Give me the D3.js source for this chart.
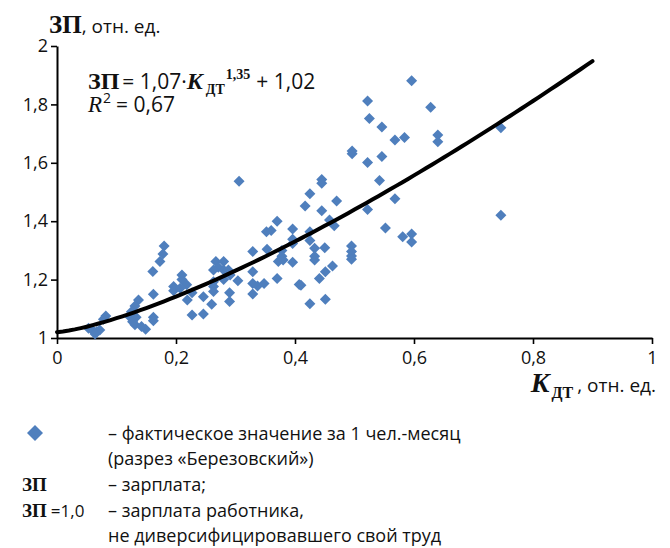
<!DOCTYPE html>
<html>
<head>
<meta charset="utf-8">
<script src="https://cdn.jsdelivr.net/npm/d3@7/dist/d3.min.js"></script>
<style>
  body { margin: 0; background: #fff; }
  svg { display: block; }
  .sans { font-family: "Open Sans", "Noto Sans", sans-serif; }
  .serif { font-family: "Liberation Serif", "DejaVu Serif", serif; }
</style>
</head>
<body>
<svg id="chart" width="670" height="548"></svg>
<script>
// fact points: K_DT vs ZP
var kdt = [0.596, 0.628, 0.584, 0.640, 0.640, 0.746, 0.746, 0.581, 0.596, 0.596,
           0.522, 0.525, 0.546, 0.568, 0.496, 0.496, 0.522, 0.546, 0.542, 0.568,
           0.522, 0.445, 0.445, 0.425, 0.417, 0.445, 0.470, 0.458, 0.466, 0.425,
           0.425, 0.433, 0.450, 0.433, 0.433, 0.495, 0.495, 0.495, 0.495, 0.552,
           0.463, 0.451, 0.441, 0.410, 0.425, 0.451, 0.306, 0.370, 0.352, 0.360,
           0.396, 0.396, 0.396, 0.329, 0.353, 0.378, 0.378, 0.372, 0.380, 0.396,
           0.370, 0.407, 0.329, 0.329, 0.337, 0.348, 0.329, 0.304, 0.267, 0.280,
           0.271, 0.263, 0.280, 0.288, 0.291, 0.280, 0.263, 0.263, 0.263, 0.290,
           0.290, 0.246, 0.260, 0.227, 0.219, 0.227, 0.246, 0.210, 0.210, 0.218,
           0.196, 0.196, 0.207, 0.180, 0.178, 0.173, 0.161, 0.162, 0.162, 0.162,
           0.149, 0.137, 0.131, 0.125, 0.121, 0.133, 0.127, 0.131, 0.142, 0.082,
           0.078, 0.058, 0.067, 0.072, 0.053, 0.064];
var zp  = [1.881, 1.790, 1.687, 1.695, 1.672, 1.720, 1.420, 1.347, 1.356, 1.329,
           1.812, 1.752, 1.723, 1.678, 1.631, 1.640, 1.601, 1.622, 1.539, 1.477,
           1.440, 1.543, 1.530, 1.494, 1.452, 1.436, 1.469, 1.404, 1.384, 1.364,
           1.334, 1.307, 1.309, 1.280, 1.267, 1.315, 1.296, 1.281, 1.270, 1.377,
           1.247, 1.227, 1.204, 1.181, 1.117, 1.133, 1.537, 1.400, 1.364, 1.368,
           1.373, 1.338, 1.324, 1.296, 1.304, 1.300, 1.280, 1.262, 1.267, 1.259,
           1.204, 1.183, 1.227, 1.187, 1.178, 1.187, 1.151, 1.196, 1.262, 1.262,
           1.242, 1.233, 1.233, 1.233, 1.216, 1.200, 1.193, 1.176, 1.159, 1.155,
           1.125, 1.141, 1.116, 1.155, 1.130, 1.079, 1.082, 1.216, 1.200, 1.182,
           1.176, 1.162, 1.170, 1.315, 1.288, 1.262, 1.228, 1.150, 1.071, 1.059,
           1.030, 1.130, 1.110, 1.090, 1.075, 1.071, 1.056, 1.045, 1.039, 1.075,
           1.064, 1.030, 1.022, 1.027, 1.033, 1.014];

var xTicks = [0, 0.2, 0.4, 0.6, 0.8, 1];
var yTicks = [1, 1.2, 1.4, 1.6, 1.8, 2];

// trend: ZP = a*K^b + c, drawn for K in [0, trendMax]
var trendA = 1.07, trendB = 1.35, trendC = 1.02, trendMax = 0.9;

var fmt = function(v){ return String(+v.toFixed(1)).replace(".", ","); };

var svg = d3.select("#chart");
var x = d3.scaleLinear().domain([0, 1]).range([57, 652]);
var y = d3.scaleLinear().domain([1, 2]).range([338, 46]);

// axes
var gx = svg.append("g").attr("transform", "translate(0,338)")
    .call(d3.axisBottom(x).tickValues(xTicks).tickFormat(fmt).tickSize(6).tickSizeOuter(0));
var gy = svg.append("g").attr("transform", "translate(57,0)")
    .call(d3.axisLeft(y).tickValues(yTicks).tickFormat(fmt).tickSize(6).tickSizeOuter(0));

[gx, gy].forEach(function(g){
    g.select(".domain").attr("stroke", "#000").attr("stroke-width", 2);
    g.selectAll(".tick line").attr("stroke", "#000").attr("stroke-width", 1.6);
    g.selectAll(".tick text").attr("class", "sans").attr("font-size", 18).attr("fill", "#111");
});
gx.selectAll(".tick text").attr("y", 9).attr("dy", "0.95em");
gy.selectAll(".tick text").attr("x", -9);

// points
var pts = d3.range(kdt.length).map(function(i){ return {k: kdt[i], z: zp[i]}; });
svg.append("g").selectAll("path")
    .data(pts)
    .enter()
    .append("path")
        .attr("d", "M0,-5.5L5.5,0L0,5.5L-5.5,0Z")
        .attr("transform", function(d){ return "translate(" + x(d.k) + "," + y(d.z) + ")"; })
        .attr("fill", "#4f7fbd");

// trend curve
var curve = d3.range(0, 91).map(function(i){
    var k = trendMax * i / 90;
    return [k, trendA * Math.pow(k, trendB) + trendC];
});
svg.append("path")
    .datum(curve)
    .attr("d", d3.line().x(function(d){ return x(d[0]); }).y(function(d){ return y(d[1]); }))
    .attr("fill", "none")
    .attr("stroke", "#000")
    .attr("stroke-width", 4)
    .attr("stroke-linecap", "round");

// mixed-font label: pieces laid out one after another as separate texts
function run(x0, y0, parts, alignEnd) {
    var g = svg.append("g");
    var cx = 0;
    parts.forEach(function(p){
        cx += p.dx || 0;
        var t = g.append("text")
            .attr("class", p.serif ? "serif" : "sans")
            .attr("x", cx).attr("y", p.dy || 0)
            .attr("font-size", p.size)
            .attr("font-weight", p.bold ? "bold" : null)
            .attr("font-style", p.italic ? "italic" : null)
            .attr("fill", "#111")
            .text(p.t);
        cx += t.node().getComputedTextLength();
    });
    g.attr("transform", "translate(" + (alignEnd ? x0 - cx : x0) + "," + y0 + ")");
}

// y axis title
run(49, 33, [
    {t: "ЗП", serif: true, bold: true, size: 25},
    {t: ", отн. ед.", size: 19}
]);

// x axis title
run(656, 392, [
    {t: "K", serif: true, bold: true, italic: true, size: 28},
    {t: "ДТ", serif: true, bold: true, size: 16, dx: 2, dy: 6},
    {t: ", отн. ед.", size: 19, dx: 4}
], true);

// equation
run(88, 89, [
    {t: "ЗП", serif: true, bold: true, size: 24},
    {t: "= 1,07·", size: 21, dx: 3},
    {t: "K", serif: true, bold: true, italic: true, size: 24},
    {t: "ДТ", serif: true, bold: true, size: 14, dx: 3, dy: 5},
    {t: "1,35", serif: true, bold: true, size: 14, dx: 1, dy: -10},
    {t: "+ 1,02", size: 21, dx: 6}
]);
run(88, 112, [
    {t: "R", serif: true, italic: true, size: 23},
    {t: "2", size: 14, dx: 1, dy: -9},
    {t: "= 0,67", size: 21, dx: 5}
]);

// legend
svg.append("path").attr("d", "M0,-8L8,0L0,8L-8,0Z").attr("transform", "translate(35,433)").attr("fill", "#4f7fbd");

var legLines = [
    {y: 440, key: "", text: "– фактическое значение за 1 чел.-месяц"},
    {y: 465, key: "", text: "(разрез «Березовский»)"},
    {y: 491, key: "ЗП", text: "– зарплата;"},
    {y: 517, key: "ЗП", suffix: "=1,0", text: "– зарплата работника,"},
    {y: 542, key: "", text: "не диверсифицировавшего свой труд"}
];
legLines.forEach(function(l){
    if (l.key) {
        var parts = [{t: l.key, serif: true, bold: true, size: 19}];
        if (l.suffix) parts.push({t: l.suffix, size: 17, dx: 4});
        run(22, l.y, parts);
    }
    svg.append("text").attr("class", "sans").attr("x", 108).attr("y", l.y)
        .attr("font-size", 18).attr("fill", "#111").text(l.text);
});
</script>
</body>
</html>
